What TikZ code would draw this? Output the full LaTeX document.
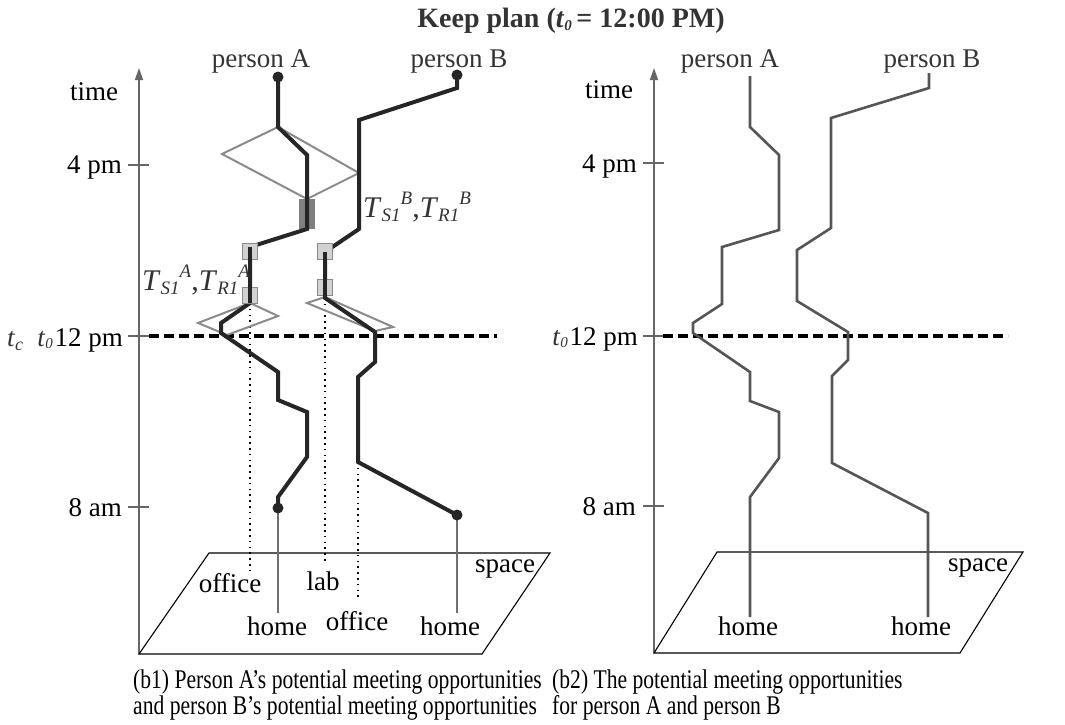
\documentclass[tikz,border=0pt]{standalone}
\usepackage{fontspec}
\setmainfont{Liberation Serif}
\usetikzlibrary{arrows.meta}
\definecolor{ink}{HTML}{262626}
\definecolor{txtgray}{HTML}{333333}
\definecolor{axisgray}{HTML}{666666}
\definecolor{conegray}{HTML}{8A8A8A}
\definecolor{pathgray}{HTML}{555555}
\definecolor{homegray}{HTML}{707070}
\definecolor{boxfill}{HTML}{D2D2D2}
\definecolor{barfill}{HTML}{808080}
% italic T with subscript and raised superscript
\newcommand{\tsr}[2]{\textit{T}\raisebox{-4pt}{\fontsize{19}{19}\selectfont\textit{#1}}\raisebox{13pt}{\fontsize{19}{19}\selectfont\textit{#2}}}
\newcommand{\tzero}{\textit{t}\raisebox{-2pt}{\fontsize{15}{15}\selectfont\textit{0}}}
\begin{document}
\begin{tikzpicture}[x=1pt,y=-1pt,
  lbl/.style={font=\fontsize{27}{30}\selectfont, inner sep=0pt},
  axisline/.style={draw=axisgray, line width=1.5pt},
  tickline/.style={draw=axisgray, line width=1.2pt},
  planeline/.style={draw=black, line width=1.1pt},
  trackA/.style={draw=ink, line width=4pt, line join=miter},
  trackR/.style={draw=pathgray, line width=2.6pt, line join=miter},
  cone/.style={draw=conegray, line width=2pt},
  homeline/.style={draw=homegray, line width=2.2pt},
  dropline/.style={draw=black, line width=2pt, dash pattern=on 1.6pt off 4.2pt},
  nowline/.style={draw=black, line width=4pt, dash pattern=on 10pt off 5pt},
  sbox/.style={draw=conegray, fill=boxfill, line width=1pt, minimum width=15pt, minimum height=16pt, inner sep=0pt},
  dotend/.style={fill=ink}
]
\useasboundingbox (0,0) rectangle (1065,725);

% ---------- title ----------
\node[lbl, anchor=base, text=txtgray, font=\fontsize{28}{30}\selectfont\bfseries] (title) at (571,28) {Keep plan (\tzero\,= 12:00 PM)};

% ================= left panel =================
\coordinate (Lax0) at (139,654);
\coordinate (Lax1) at (139,68);
\draw[axisline, -{Triangle[length=12pt,width=8pt]}] (Lax0) -- (Lax1);
\coordinate (Lt4a) at (128,165); \coordinate (Lt4b) at (149,165);
\coordinate (Lt12a) at (128,336); \coordinate (Lt12b) at (149,336);
\coordinate (Lt8a) at (128,507); \coordinate (Lt8b) at (149,507);
\draw[tickline] (Lt4a) -- (Lt4b);
\draw[tickline] (Lt12a) -- (Lt12b);
\draw[tickline] (Lt8a) -- (Lt8b);
\node[lbl, anchor=base] (Ltime) at (94,100) {time};
\node[lbl, anchor=base east] (L4pm) at (122,173) {4 pm};
\node[lbl, anchor=base east] (L12pm) at (123,346) {12 pm};
\node[lbl, anchor=base east, text=txtgray] (Lt0) at (53,346) {\tzero};
\node[lbl, anchor=base west, text=txtgray] (Ltc) at (7,346) {\textit{t}\raisebox{-4pt}{\fontsize{18}{18}\selectfont\textit{c}}};
\node[lbl, anchor=base east] (L8am) at (122,516) {8 am};

% space plane
\coordinate (Lp1) at (139,654); \coordinate (Lp2) at (482,654);
\coordinate (Lp3) at (550,553); \coordinate (Lp4) at (209,553);
\draw[planeline] (Lp1) -- (Lp2) -- (Lp3) -- (Lp4) -- cycle;
\node[lbl, anchor=base] (Lspace) at (505,572) {space};
\node[lbl, anchor=base] (Loff1) at (230,592) {office};
\node[lbl, anchor=base] (Llab) at (323,590) {lab};
\node[lbl, anchor=base] (Loff2) at (357,630) {office};
\node[lbl, anchor=base] (LhomeA) at (277,635) {home};
\node[lbl, anchor=base] (LhomeB) at (450,635) {home};

% person labels
\node[lbl, anchor=base, text=txtgray] (LpA) at (261,67) {person A};
\node[lbl, anchor=base, text=txtgray] (LpB) at (459,67) {person B};

% track of person A
\coordinate (a0) at (278,77);
\coordinate (a1) at (278,127);
\coordinate (a2) at (307,155);
\coordinate (a3) at (307,229);
\coordinate (a4) at (250,247);
\coordinate (a5) at (250,303);
\coordinate (a6) at (221,323);
\coordinate (a7) at (221,333);
\coordinate (a8) at (278,372);
\coordinate (a9) at (278,400);
\coordinate (a10) at (307,412);
\coordinate (a11) at (307,457);
\coordinate (a12) at (278,497);
\coordinate (a13) at (278,508);
\coordinate (aH) at (278,613);
% track of person B
\coordinate (b0) at (457,75);
\coordinate (b1) at (457,88);
\coordinate (b2) at (359,120);
\coordinate (b3) at (359,229);
\coordinate (b4) at (325,252);
\coordinate (b5) at (325,298);
\coordinate (b6) at (375,332);
\coordinate (b7) at (375,362);
\coordinate (b8) at (358,377);
\coordinate (b9) at (358,462);
\coordinate (b10) at (457,515);
\coordinate (bH) at (457,613);

% drop lines to places
\coordinate (dA) at (250,572);
\coordinate (dL) at (325,562);
\coordinate (dB) at (358,600);
\draw[dropline] (a5) -- (dA);
\draw[dropline] (b5) -- (dL);
\draw[dropline] (b9) -- (dB);

% home lines
\draw[homeline] (a13) -- (aH);
\draw[homeline] (b10) -- (bH);

% current time line
\coordinate (Ln0) at (149,336); \coordinate (Ln1) at (497,336);
\draw[nowline] (Ln0) -- (Ln1);

% prisms
\coordinate (c1r) at (359,173); \coordinate (c1b) at (307,199); \coordinate (c1l) at (222,154);
\draw[cone] (a1) -- (c1r) -- (c1b) -- (c1l) -- cycle;
\coordinate (c2r) at (278,316); \coordinate (c2b) at (227,335); \coordinate (c2l) at (198,323);
\draw[cone] (a5) -- (c2r) -- (c2b) -- (c2l) -- cycle;
\coordinate (c3t) at (325,297); \coordinate (c3r) at (393,327); \coordinate (c3b) at (375,331); \coordinate (c3l) at (307,303);
\draw[cone] (c3t) -- (c3r) -- (c3b) -- (c3l) -- cycle;

% meeting bar
\coordinate (bar0) at (299,199); \coordinate (bar1) at (315,229);
\fill[barfill] (bar0) rectangle (bar1);

% tracks
\draw[trackA] (a0) -- (a1) -- (a2) -- (a3) -- (a4) -- (a5) -- (a6) -- (a7) -- (a8) -- (a9) -- (a10) -- (a11) -- (a12) -- (a13);
\draw[trackA] (b0) -- (b1) -- (b2) -- (b3) -- (b4) -- (b5) -- (b6) -- (b7) -- (b8) -- (b9) -- (b10);

% stay boxes
\node[sbox] (sA1) at (250,251) {};
\node[sbox] (sA2) at (250,295) {};
\node[sbox] (sB1) at (325,251) {};
\node[sbox] (sB2) at (325,287) {};
\draw[trackA] (a4) -- (a5);
\draw[trackA] (b4) -- (b5);

% end points
\fill[dotend] (a0) circle (5.5);
\fill[dotend] (a13) circle (5.5);
\fill[dotend] (b0) circle (5.5);
\fill[dotend] (b10) circle (5.5);

% stay-time labels
\node[lbl, anchor=base west, text=txtgray, font=\fontsize{30}{32}\selectfont] (TA) at (142,290) {\tsr{S1}{A},\tsr{R1}{A}};
\node[lbl, anchor=base west, text=txtgray, font=\fontsize{30}{32}\selectfont] (TB) at (363,217) {\tsr{S1}{B},\tsr{R1}{B}};

% caption
\node[lbl, anchor=base west, align=left] (capL1) at (133,688) {\scalebox{0.8}[1]{(b1) Person A’s potential meeting opportunities}};
\node[lbl, anchor=base west, align=left] (capL2) at (133,714) {\scalebox{0.8}[1]{and person B’s potential meeting opportunities}};

% ================= right panel =================
\coordinate (Rax0) at (654,653);
\coordinate (Rax1) at (654,68);
\draw[axisline, -{Triangle[length=12pt,width=8pt]}] (Rax0) -- (Rax1);
\coordinate (Rt4a) at (643,163); \coordinate (Rt4b) at (664,163);
\coordinate (Rt12a) at (643,336); \coordinate (Rt12b) at (664,336);
\coordinate (Rt8a) at (643,506); \coordinate (Rt8b) at (664,506);
\draw[tickline] (Rt4a) -- (Rt4b);
\draw[tickline] (Rt12a) -- (Rt12b);
\draw[tickline] (Rt8a) -- (Rt8b);
\node[lbl, anchor=base] (Rtime) at (609,99) {time};
\node[lbl, anchor=base east] (R4pm) at (637,172) {4 pm};
\node[lbl, anchor=base east] (R12pm) at (638,345) {12 pm};
\node[lbl, anchor=base east, text=txtgray] (Rt0) at (568,345) {\tzero};
\node[lbl, anchor=base east] (R8am) at (636,515) {8 am};

\coordinate (Rp1) at (654,653); \coordinate (Rp2) at (960,653);
\coordinate (Rp3) at (1023,552); \coordinate (Rp4) at (717,552);
\draw[planeline] (Rp1) -- (Rp2) -- (Rp3) -- (Rp4) -- cycle;
\node[lbl, anchor=base] (Rspace) at (978,571) {space};
\node[lbl, anchor=base] (RhomeA) at (748,635) {home};
\node[lbl, anchor=base] (RhomeB) at (921,635) {home};

\node[lbl, anchor=base, text=txtgray] (RpA) at (730,67) {person A};
\node[lbl, anchor=base, text=txtgray] (RpB) at (932,67) {person B};

\coordinate (Rn0) at (663,336); \coordinate (Rn1) at (1008,336);
\draw[nowline] (Rn0) -- (Rn1);

\coordinate (ra0) at (750,76);
\coordinate (ra1) at (750,127);
\coordinate (ra2) at (779,155);
\coordinate (ra3) at (779,230);
\coordinate (ra4) at (722,247);
\coordinate (ra5) at (722,304);
\coordinate (ra6) at (693,323);
\coordinate (ra7) at (693,333);
\coordinate (ra8) at (750,372);
\coordinate (ra9) at (750,401);
\coordinate (ra10) at (779,412);
\coordinate (ra11) at (779,458);
\coordinate (ra12) at (750,497);
\coordinate (ra13) at (750,617);
\draw[trackR] (ra0) -- (ra1) -- (ra2) -- (ra3) -- (ra4) -- (ra5) -- (ra6) -- (ra7) -- (ra8) -- (ra9) -- (ra10) -- (ra11) -- (ra12) -- (ra13);

\coordinate (rb0) at (929,73);
\coordinate (rb1) at (929,88);
\coordinate (rb2) at (831,118);
\coordinate (rb3) at (831,228);
\coordinate (rb4) at (797,250);
\coordinate (rb5) at (797,301);
\coordinate (rb6) at (848,332);
\coordinate (rb7) at (848,360);
\coordinate (rb8) at (832,376);
\coordinate (rb9) at (832,463);
\coordinate (rb10) at (928,513);
\coordinate (rb11) at (928,617);
\draw[trackR] (rb0) -- (rb1) -- (rb2) -- (rb3) -- (rb4) -- (rb5) -- (rb6) -- (rb7) -- (rb8) -- (rb9) -- (rb10) -- (rb11);

\node[lbl, anchor=base west, align=left] (capR1) at (552,688) {\scalebox{0.8}[1]{(b2) The potential meeting opportunities}};
\node[lbl, anchor=base west, align=left] (capR2) at (552,714) {\scalebox{0.8}[1]{for person A and person B}};
\end{tikzpicture}
\end{document}
